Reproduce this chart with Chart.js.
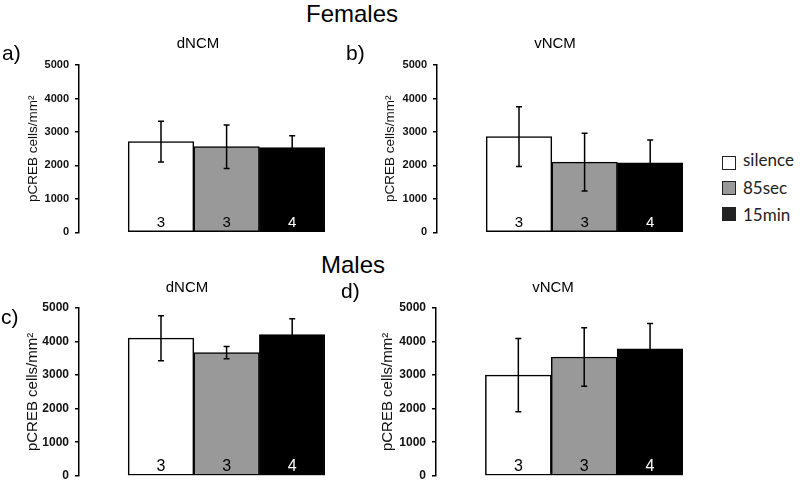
<!DOCTYPE html>
<html>
<head>
<meta charset="utf-8">
<script src="https://cdn.jsdelivr.net/npm/chart.js@4"></script>
<style>
  body { margin: 0; background: #fff; }
  #fig { position: relative; width: 800px; height: 489px; overflow: hidden; font-family: "Liberation Sans", Arial, sans-serif; color: #000; }
  #fig canvas { position: absolute; }
  .lbl { position: absolute; white-space: nowrap; line-height: 1; }
  .big { font-size: 24px; }
  .letter { font-size: 21px; }
  .region { font-size: 15px; width: 100px; text-align: center; }
  .key { position: absolute; left: 722px; width: 14px; height: 14px; box-sizing: border-box; border: 1.5px solid #222; }
  .keytxt { position: absolute; left: 743px; font-family: Lato, "Open Sans", sans-serif; font-size: 17px; line-height: 17px; color: #222; }
</style>
</head>
<body>
<div id="fig">
  <canvas id="femDorsal" width="340" height="205" style="left:0;top:40px"></canvas>
  <canvas id="femVentral" width="340" height="205" style="left:350px;top:40px"></canvas>
  <canvas id="maleDorsal" width="340" height="209" style="left:0;top:280px"></canvas>
  <canvas id="maleVentral" width="340" height="209" style="left:350px;top:280px"></canvas>

  <div class="lbl big" style="left:306px;top:2px">Females</div>
  <div class="lbl big" style="left:321px;top:253px">Males</div>
  <div class="lbl letter" style="left:2px;top:42px">a)</div>
  <div class="lbl letter" style="left:346px;top:42px">b)</div>
  <div class="lbl letter" style="left:1px;top:306px">c)</div>
  <div class="lbl letter" style="left:341px;top:280px">d)</div>
  <div class="lbl region" style="left:148px;top:35px">dNCM</div>
  <div class="lbl region" style="left:505px;top:35px">vNCM</div>
  <div class="lbl region" style="left:137px;top:279px">dNCM</div>
  <div class="lbl region" style="left:503px;top:279px">vNCM</div>

  <div class="key" style="top:156px;background:#fff"></div>
  <div class="keytxt" style="top:151px">silence</div>
  <div class="key" style="top:181px;background:#999"></div>
  <div class="keytxt" style="top:179px">85sec</div>
  <div class="key" style="top:207px;background:#222"></div>
  <div class="keytxt" style="top:206px">15min</div>
</div>

<script>
// groups and sample sizes
const groups = ['silence', '85sec', '15min'];
const groupColors = ['#ffffff', '#999999', '#000000'];
const sampleSizes = [3, 3, 4];
const yTicks = [0, 1000, 2000, 3000, 4000, 5000];

// pCREB cells/mm2, mean and error
const femDorsalMean = [2710, 2560, 2530];
const femDorsalErr = [610, 650, 360];
const femVentralMean = [2860, 2100, 2080];
const femVentralErr = [890, 860, 680];
const maleDorsalMean = [4100, 3670, 4210];
const maleDorsalErr = [670, 180, 470];
const maleVentralMean = [3000, 3540, 3780];
const maleVentralErr = [1090, 870, 760];

Chart.defaults.font.family = '"Liberation Sans", Arial, sans-serif';
Chart.defaults.color = '#000';

// draws the error bars and the n inside each bar
const barExtras = {
  id: 'barExtras',
  afterDatasetsDraw(chart) {
    const { ctx, scales: { y } } = chart;
    const ds = chart.data.datasets[0];
    const meta = chart.getDatasetMeta(0);
    ctx.save();
    ctx.strokeStyle = '#000';
    ctx.lineWidth = 1.5;
    meta.data.forEach((bar, i) => {
      const v = ds.data[i].y;
      const e = ds.errors[i];
      const top = y.getPixelForValue(v + e);
      const bot = y.getPixelForValue(v - e);
      ctx.beginPath();
      ctx.moveTo(bar.x, top); ctx.lineTo(bar.x, bot);
      ctx.moveTo(bar.x - 3, top); ctx.lineTo(bar.x + 3, top);
      ctx.moveTo(bar.x - 3, bot); ctx.lineTo(bar.x + 3, bot);
      ctx.stroke();
    });
    ctx.font = ds.nFont + 'px "Liberation Sans", Arial, sans-serif';
    ctx.textAlign = 'center';
    ctx.textBaseline = 'alphabetic';
    meta.data.forEach((bar, i) => {
      ctx.fillStyle = groupColors[i] === '#000000' ? '#fff' : '#000';
      ctx.fillText(String(sampleSizes[i]), bar.x, y.bottom - 5);
    });
    ctx.restore();
  }
};

function makePanel(id, means, errs, pad, tickSize, titleSize, titlePad) {
  new Chart(document.getElementById(id), {
    type: 'bar',
    data: {
      datasets: [{
        data: means.map((m, i) => ({ x: i, y: m })),
        errors: errs,
        nFont: tickSize + 4,
        backgroundColor: groupColors,
        borderColor: '#000',
        borderWidth: 1.5,
        borderSkipped: false,
        barPercentage: 1,
        categoryPercentage: 1
      }]
    },
    options: {
      responsive: false,
      animation: false,
      devicePixelRatio: 1,
      layout: { padding: pad },
      plugins: { legend: { display: false }, tooltip: { enabled: false } },
      scales: {
        x: {
          type: 'linear',
          display: false,
          offset: false,
          min: -1.25,
          max: groups.length - 0.5,
          afterBuildTicks: s => { s.ticks = groups.map((g, i) => ({ value: i })); }
        },
        y: {
          min: yTicks[0],
          max: yTicks[yTicks.length - 1],
          afterBuildTicks: s => { s.ticks = yTicks.map(v => ({ value: v })); },
          afterFit: s => { s.width = 60; },
          grid: { display: true, drawOnChartArea: false, drawTicks: true, tickLength: 4, color: '#000', lineWidth: 1.5 },
          border: { display: true, color: '#000', width: 1.5 },
          ticks: { padding: 6, font: { size: tickSize, weight: 'bold' }, color: '#111', callback: v => String(v) },
          title: { display: true, text: 'pCREB cells/mm²', font: { size: titleSize }, color: '#111', padding: { top: titlePad, bottom: 0 } }
        }
      }
    },
    plugins: [barExtras]
  });
}

makePanel('femDorsal', femDorsalMean, femDorsalErr, { left: 19, top: 25, right: 15, bottom: 12 }, 11, 13.5, 6);
makePanel('femVentral', femVentralMean, femVentralErr, { left: 27, top: 25, right: 7, bottom: 12 }, 11, 13.5, 5);
makePanel('maleDorsal', maleDorsalMean, maleDorsalErr, { left: 19, top: 28, right: 15, bottom: 9 }, 12, 15, 5);
makePanel('maleVentral', maleVentralMean, maleVentralErr, { left: 26, top: 28, right: 7, bottom: 9 }, 12, 15, 3);
</script>
</body>
</html>
